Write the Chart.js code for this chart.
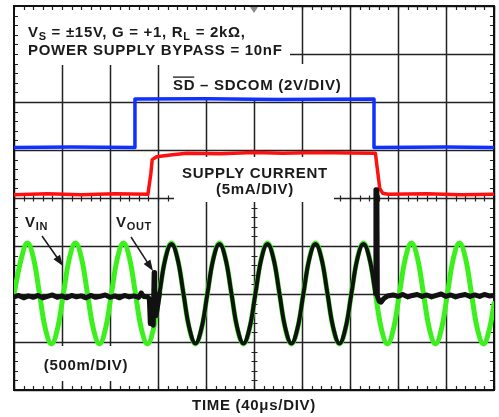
<!DOCTYPE html>
<html>
<head>
<meta charset="utf-8">
<script src="https://cdn.jsdelivr.net/npm/chart.js@4/dist/chart.umd.min.js"></script>
<style>
  html, body { margin: 0; padding: 0; background: #fff; }
</style>
</head>
<body>
<canvas id="scopeChart" width="499" height="417"></canvas>
<script>
// x in time divisions (0..10), y in vertical divisions (0 = bottom .. 8 = top)

// SD - SDCOM trace (blue)
const sdTime = [0, 1.2, 2.52, 2.52, 4.0, 5.5, 7.5, 7.5, 9.0, 10];
const sdLevel = [5.05, 5.06, 5.05, 6.06, 6.07, 6.05, 6.06, 5.05, 5.06, 5.05];

// supply current trace (red)
const supplyTime = [0, 0.7, 1.4, 2.1, 2.79, 2.85, 2.88, 2.97, 3.3, 3.6, 4.3, 5.0, 5.6, 6.3, 7.0, 7.53, 7.57, 7.62, 7.68, 7.8, 8.6, 9.3, 10];
const supplyLevel = [4.07, 4.09, 4.07, 4.09, 4.08, 4.5, 4.8, 4.86, 4.9, 4.93, 4.92, 4.95, 4.93, 4.95, 4.94, 4.93, 4.6, 4.2, 4.1, 4.08, 4.09, 4.07, 4.08];

// VIN (green)
const vinTime = [0, 0.155, 0.28, 0.405, 0.53, 0.655, 0.78, 0.905,
  1.03, 1.155, 1.28, 1.405, 1.53, 1.655, 1.78, 1.905,
  2.03, 2.155, 2.28, 2.405, 2.53, 2.655, 2.78, 2.905,
  3.03, 3.155, 3.28, 3.405, 3.53, 3.655, 3.78, 3.905,
  4.03, 4.155, 4.28, 4.405, 4.53, 4.655, 4.78, 4.905,
  5.03, 5.155, 5.28, 5.405, 5.53, 5.655, 5.78, 5.905,
  6.03, 6.155, 6.28, 6.405, 6.53, 6.655, 6.78, 6.905,
  7.03, 7.155, 7.28, 7.405, 7.53, 7.655, 7.78, 7.905,
  8.03, 8.155, 8.28, 8.405, 8.53, 8.655, 8.78, 8.905,
  9.03, 9.155, 9.28, 9.405, 9.53, 9.655, 9.78, 9.905, 10];
const vinLevel = [2.0, 2.75, 3.06, 2.75, 2.01, 1.27, 0.96, 1.27,
  2.01, 2.75, 3.06, 2.75, 2.01, 1.27, 0.96, 1.27,
  2.01, 2.75, 3.06, 2.75, 2.01, 1.27, 0.96, 1.27,
  2.01, 2.75, 3.06, 2.75, 2.01, 1.27, 0.96, 1.27,
  2.01, 2.75, 3.06, 2.75, 2.01, 1.27, 0.96, 1.27,
  2.01, 2.75, 3.06, 2.75, 2.01, 1.27, 0.96, 1.27,
  2.01, 2.75, 3.06, 2.75, 2.01, 1.27, 0.96, 1.27,
  2.01, 2.75, 3.06, 2.75, 2.01, 1.27, 0.96, 1.27,
  2.01, 2.75, 3.06, 2.75, 2.01, 1.27, 0.96, 1.27,
  2.01, 2.75, 3.06, 2.75, 2.01, 1.27, 0.96, 1.27, 1.8];

// VOUT (black): flat before enable, follows VIN, flat after disable
const voutPreTime = [0, 0.1, 0.2, 0.3, 0.4, 0.5, 0.6, 0.7, 0.8, 0.9, 1.0, 1.1, 1.2, 1.3, 1.4, 1.5, 1.6, 1.7, 1.8, 1.9, 2.0, 2.1, 2.2, 2.3, 2.4, 2.5, 2.6, 2.65, 2.7, 2.78, 2.82, 2.84, 2.87, 2.9, 2.92, 2.93, 2.96, 3.03];
const voutPreLevel = [1.94, 1.97, 1.92, 1.96, 1.93, 1.97, 1.92, 1.95, 1.98, 1.93, 1.96, 1.92, 1.97, 1.94, 1.96, 1.92, 1.97, 1.93, 1.95, 1.98, 1.93, 1.96, 1.92, 1.97, 1.94, 1.96, 1.93, 2.02, 1.95, 1.94, 1.9, 1.38, 1.55, 1.35, 2.45, 1.7, 1.55, 2.01];
const voutTime = [3.03, 3.155, 3.28, 3.405, 3.53, 3.655, 3.78, 3.905,
  4.03, 4.155, 4.28, 4.405, 4.53, 4.655, 4.78, 4.905,
  5.03, 5.155, 5.28, 5.405, 5.53, 5.655, 5.78, 5.905,
  6.03, 6.155, 6.28, 6.405, 6.53, 6.655, 6.78, 6.905,
  7.03, 7.155, 7.28, 7.405, 7.53];
const voutLevel = [2.01, 2.74, 3.04, 2.74, 2.01, 1.28, 0.97, 1.28,
  2.01, 2.74, 3.04, 2.74, 2.01, 1.28, 0.97, 1.28,
  2.01, 2.74, 3.04, 2.74, 2.01, 1.28, 0.97, 1.28,
  2.01, 2.74, 3.04, 2.74, 2.01, 1.28, 0.97, 1.28,
  2.01, 2.74, 3.04, 2.74, 2.01];
const voutPostTime = [7.53, 7.54, 7.56, 7.57, 7.61, 7.65, 7.7, 7.78, 7.9, 8.0, 8.1, 8.2, 8.3, 8.4, 8.5, 8.6, 8.7, 8.8, 8.9, 9.0, 9.1, 9.2, 9.3, 9.4, 9.5, 9.6, 9.7, 9.8, 9.9, 10];
const voutPostLevel = [2.01, 4.17, 4.17, 1.95, 1.85, 1.83, 1.9, 1.96, 1.98, 1.95, 1.99, 1.94, 1.97, 1.99, 1.95, 1.98, 1.94, 1.97, 2.0, 1.95, 1.98, 1.94, 1.97, 1.99, 1.95, 1.98, 1.95, 1.99, 1.96, 1.97];

const xDivs = [0, 1, 2, 3, 4, 5, 6, 7, 8, 9, 10];
const yDivs = [0, 1, 2, 3, 4, 5, 6, 7, 8];

function pts(xs, ys) {
  return xs.map((v, i) => ({ x: v, y: ys[i] }));
}

const FONT = '"Liberation Sans", Arial, sans-serif';
const SPACING = '0.7px';

// white areas behind the labels (grid lines hidden there)
const maskBoxes = [
  [15, 7, 290, 65],
  [165, 64, 342, 98],
  [174, 157, 334, 202],
  [19, 346, 140, 381]
];

function drawRich(ctx, x, y, parts, size) {
  let cx = x;
  parts.forEach(p => {
    const s = p.sub ? Math.round(size * 0.72) : size;
    ctx.font = 'bold ' + s + 'px ' + FONT;
    const dy = p.sub ? 3 : 0;
    ctx.fillText(p.t, cx, y + dy);
    const w = ctx.measureText(p.t).width;
    if (p.over) {
      ctx.lineWidth = 1.3;
      ctx.beginPath();
      ctx.moveTo(cx, y - size * 0.86);
      ctx.lineTo(cx + w - 1, y - size * 0.86);
      ctx.stroke();
    }
    cx += w;
  });
}

function arrow(ctx, x1, y1, x2, y2) {
  const ang = Math.atan2(y2 - y1, x2 - x1);
  const L = 11, W = 4;
  ctx.lineWidth = 1.5;
  ctx.beginPath();
  ctx.moveTo(x1, y1);
  ctx.lineTo(x2 - Math.cos(ang) * L * 0.8, y2 - Math.sin(ang) * L * 0.8);
  ctx.stroke();
  ctx.beginPath();
  ctx.moveTo(x2, y2);
  ctx.lineTo(x2 - Math.cos(ang) * L - Math.sin(ang) * W, y2 - Math.sin(ang) * L + Math.cos(ang) * W);
  ctx.lineTo(x2 - Math.cos(ang) * L + Math.sin(ang) * W, y2 - Math.sin(ang) * L - Math.cos(ang) * W);
  ctx.closePath();
  ctx.fill();
}

const scopeGrid = {
  id: 'scopeGrid',
  beforeDatasetsDraw(chart) {
    const { ctx, chartArea: a, scales: { x, y } } = chart;
    ctx.save();
    ctx.strokeStyle = '#222';
    ctx.lineWidth = 1.5;
    ctx.beginPath();
    xDivs.forEach(d => {
      const px = Math.round(x.getPixelForValue(d)) + 0.5;
      ctx.moveTo(px, a.top); ctx.lineTo(px, a.bottom);
    });
    yDivs.forEach(d => {
      const py = Math.round(y.getPixelForValue(d)) + 0.5;
      ctx.moveTo(a.left, py); ctx.lineTo(a.right, py);
    });
    ctx.stroke();

    ctx.fillStyle = '#fff';
    maskBoxes.forEach(b => ctx.fillRect(b[0], b[1], b[2] - b[0], b[3] - b[1]));

    // minor ticks, 5 per division
    ctx.lineWidth = 1.2;
    ctx.beginPath();
    const cx = Math.round(x.getPixelForValue(5)) + 0.5;
    const cy = Math.round(y.getPixelForValue(4)) + 0.5;
    for (let i = 0; i <= 50; i++) {
      const px = Math.round(x.getPixelForValue(i / 5)) + 0.5;
      ctx.moveTo(px, a.top); ctx.lineTo(px, a.top + 4);
      ctx.moveTo(px, a.bottom); ctx.lineTo(px, a.bottom - 4);
      if (px < 174 || px > 334) { ctx.moveTo(px, cy - 3); ctx.lineTo(px, cy + 3); }
    }
    for (let i = 0; i <= 40; i++) {
      const py = Math.round(y.getPixelForValue(i / 5)) + 0.5;
      ctx.moveTo(a.left, py); ctx.lineTo(a.left + 4, py);
      ctx.moveTo(a.right, py); ctx.lineTo(a.right - 4, py);
      if (py > 202) { ctx.moveTo(cx - 3, py); ctx.lineTo(cx + 3, py); }
    }
    ctx.stroke();

    ctx.strokeStyle = '#111';
    ctx.lineWidth = 2;
    ctx.strokeRect(a.left, a.top, a.right - a.left, a.bottom - a.top);
    ctx.restore();
  },
  afterDatasetsDraw(chart) {
    const { ctx, chartArea: a, scales: { x } } = chart;
    ctx.save();
    ctx.fillStyle = '#1a1a1a';
    ctx.strokeStyle = '#1a1a1a';
    ctx.textBaseline = 'alphabetic';
    ctx.textAlign = 'left';
    ctx.letterSpacing = SPACING;

    drawRich(ctx, 28, 37, [{ t: 'V' }, { t: 'S', sub: true }, { t: ' = ±15V, G = +1, R' }, { t: 'L', sub: true }, { t: ' = 2kΩ,' }], 15);
    drawRich(ctx, 28, 55, [{ t: 'POWER SUPPLY BYPASS = 10nF' }], 15);
    drawRich(ctx, 173, 90, [{ t: 'SD', over: true }, { t: ' – SDCOM (2V/DIV)' }], 15);

    ctx.textAlign = 'center';
    ctx.font = 'bold 15px ' + FONT;
    ctx.fillText('SUPPLY CURRENT', 255, 178);
    ctx.fillText('(5mA/DIV)', 255, 194);
    ctx.fillText('(500m/DIV)', 86, 370);
    ctx.fillText('TIME (40μs/DIV)', x.getPixelForValue(5), 410);
    ctx.textAlign = 'left';

    drawRich(ctx, 25, 227, [{ t: 'V' }, { t: 'IN', sub: true }], 15);
    drawRich(ctx, 116, 227, [{ t: 'V' }, { t: 'OUT', sub: true }], 15);

    arrow(ctx, 42, 236, 63, 266);
    arrow(ctx, 131, 237, 153, 271);

    // trigger marker
    const tx = x.getPixelForValue(5);
    ctx.fillStyle = '#8a8a8a';
    ctx.beginPath();
    ctx.moveTo(tx - 4, a.top + 1);
    ctx.lineTo(tx + 4, a.top + 1);
    ctx.lineTo(tx, a.top + 7);
    ctx.closePath();
    ctx.fill();
    ctx.restore();
  }
};

const traceStyle = { pointRadius: 0, fill: false, borderCapStyle: 'round', borderJoinStyle: 'round' };

new Chart(document.getElementById('scopeChart').getContext('2d'), {
  type: 'line',
  data: {
    datasets: [
      { ...traceStyle, data: pts(voutPreTime, voutPreLevel), borderColor: '#111', borderWidth: 5, tension: 0 },
      { ...traceStyle, data: pts(voutTime, voutLevel), borderColor: '#111', borderWidth: 4, tension: 0.4 },
      { ...traceStyle, data: pts(voutPostTime, voutPostLevel), borderColor: '#111', borderWidth: 5, tension: 0 },
      { ...traceStyle, data: pts(vinTime, vinLevel), borderColor: '#3cf01e', borderWidth: 5, tension: 0.4 },
      { ...traceStyle, data: pts(supplyTime, supplyLevel), borderColor: '#ff1010', borderWidth: 3.5, tension: 0 },
      { ...traceStyle, data: pts(sdTime, sdLevel), borderColor: '#1030ff', borderWidth: 3.5, tension: 0 }
    ]
  },
  options: {
    responsive: false,
    animation: false,
    devicePixelRatio: 1,
    layout: { padding: { left: 14, right: 5, top: 6, bottom: 27 } },
    scales: {
      x: { type: 'linear', min: 0, max: 10, display: false },
      y: { type: 'linear', min: 0, max: 8, display: false }
    },
    plugins: {
      legend: { display: false },
      tooltip: { enabled: false }
    }
  },
  plugins: [scopeGrid]
});
</script>
</body>
</html>
